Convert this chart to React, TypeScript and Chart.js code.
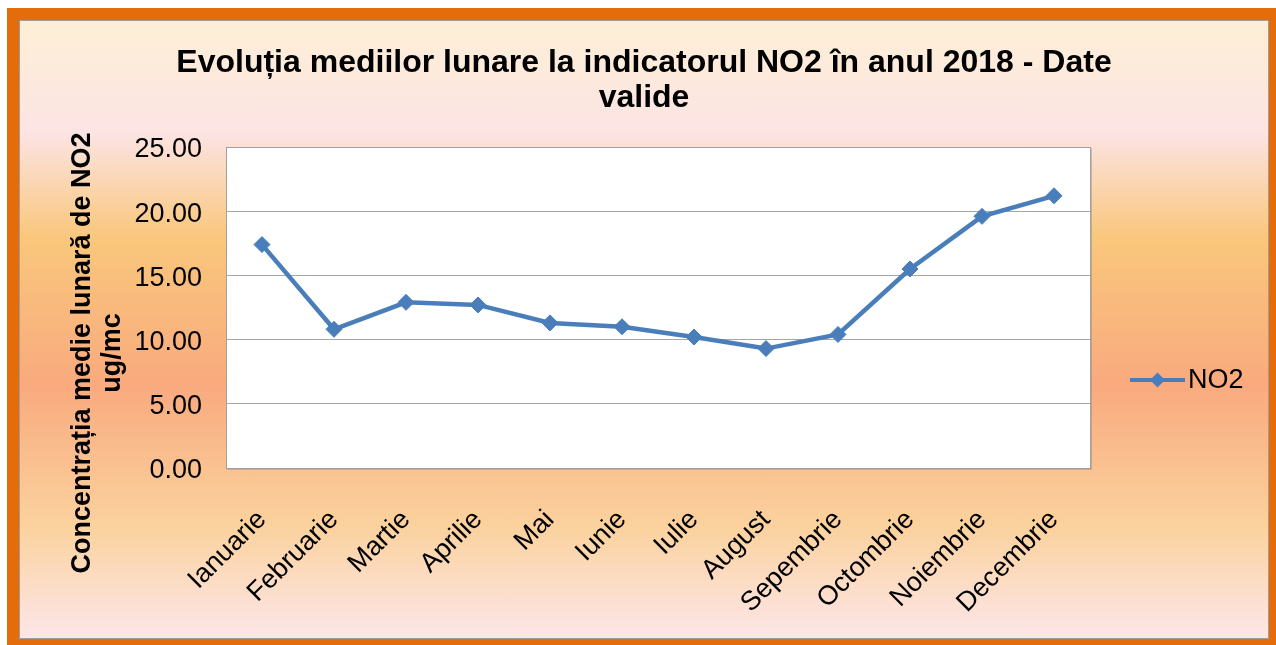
import React, { useEffect, useRef } from "react";
import { Chart, registerables } from "chart.js";

Chart.register(...registerables);

// ---- data ----
const months = [
  "Ianuarie", "Februarie", "Martie", "Aprilie", "Mai", "Iunie",
  "Iulie", "August", "Sepembrie", "Octombrie", "Noiembrie", "Decembrie",
];
const no2Values = [17.4, 10.8, 12.9, 12.7, 11.3, 11.0, 10.2, 9.3, 10.4, 15.5, 19.6, 21.2];
const seriesName = "NO2";
const titleLines = ["Evoluția mediilor lunare la indicatorul NO2 în anul 2018 - Date", "valide"];
const yTitleLines = ["Concentrația medie lunară de NO2", "ug/mc"];
const yMin = 0;
const yMax = 25;
const yStep = 5;

const FONT = "'Liberation Sans', Arial, Helvetica, sans-serif";
const LINE_COLOR = "#4a7ebb";

export default function App() {
  const canvasRef = useRef<HTMLCanvasElement | null>(null);

  useEffect(() => {
    const canvas = canvasRef.current;
    if (!canvas) return;

    const plotBg = {
      id: "plotBg",
      beforeDraw(chart: any) {
        const { ctx, chartArea: a } = chart;
        ctx.save();
        ctx.fillStyle = "#ffffff";
        ctx.fillRect(a.left, a.top, a.right - a.left, a.bottom - a.top);
        ctx.restore();
      },
      beforeDatasetsDraw(chart: any) {
        const { ctx, chartArea: a } = chart;
        const l = Math.round(a.left) + 0.5;
        const t = Math.round(a.top) + 0.5;
        const w = Math.round(a.right - a.left);
        const h = Math.round(a.bottom - a.top);
        ctx.save();
        // faint shadow on bottom/right edges
        ctx.strokeStyle = "rgba(120,120,120,0.35)";
        ctx.lineWidth = 1;
        ctx.beginPath();
        ctx.moveTo(l + 1, t + h + 1);
        ctx.lineTo(l + w + 1, t + h + 1);
        ctx.lineTo(l + w + 1, t + 1);
        ctx.stroke();
        ctx.strokeStyle = "#a0a0a0";
        ctx.strokeRect(l, t, w, h);
        ctx.restore();
      },
    };

    const sideText = {
      id: "sideText",
      afterDraw(chart: any) {
        const { ctx, chartArea: a } = chart;
        ctx.save();
        // y axis title
        ctx.fillStyle = "#000000";
        ctx.font = `bold 27px ${FONT}`;
        ctx.textAlign = "center";
        ctx.textBaseline = "alphabetic";
        const cy = 332;
        const baselines = [70, 100];
        yTitleLines.forEach((line, i) => {
          ctx.save();
          ctx.translate(baselines[i], cy);
          ctx.rotate(-Math.PI / 2);
          ctx.fillText(line, 0, 0);
          ctx.restore();
        });
        // legend
        const ds = chart.data.datasets[0];
        const ly = 359;
        const lx0 = a.right + 40;
        const lx1 = lx0 + 55;
        ctx.strokeStyle = ds.borderColor;
        ctx.lineWidth = 4;
        ctx.beginPath();
        ctx.moveTo(lx0, ly);
        ctx.lineTo(lx1, ly);
        ctx.stroke();
        const cx = (lx0 + lx1) / 2;
        const r = 7.5;
        ctx.fillStyle = ds.borderColor;
        ctx.beginPath();
        ctx.moveTo(cx, ly - r);
        ctx.lineTo(cx + r, ly);
        ctx.lineTo(cx, ly + r);
        ctx.lineTo(cx - r, ly);
        ctx.closePath();
        ctx.fill();
        ctx.fillStyle = "#000000";
        ctx.font = `27px ${FONT}`;
        ctx.textAlign = "left";
        ctx.textBaseline = "middle";
        ctx.fillText(ds.label, lx1 + 3, ly + 1);
        ctx.restore();
      },
    };

    const chart = new Chart(canvas, {
      type: "line",
      data: {
        labels: months,
        datasets: [
          {
            label: seriesName,
            data: no2Values,
            borderColor: LINE_COLOR,
            backgroundColor: LINE_COLOR,
            borderWidth: 4.5,
            tension: 0,
            pointStyle: "rectRot",
            pointRadius: 8,
            pointBorderWidth: 1,
            pointBackgroundColor: LINE_COLOR,
            pointBorderColor: LINE_COLOR,
            yAxisID: "y",
          },
        ],
      },
      options: {
        animation: false,
        responsive: false,
        maintainAspectRatio: false,
        devicePixelRatio: 1,
        layout: { padding: { left: 0, right: 0, top: 0, bottom: 0 } },
        plugins: {
          legend: { display: false },
          tooltip: { enabled: false },
          title: {
            display: true,
            text: titleLines,
            color: "#000000",
            font: { family: FONT, size: 32, weight: "bold", lineHeight: 35 / 32 },
            padding: { top: 25, bottom: 31 },
          },
        },
        scales: {
          x: {
            offset: true,
            grid: { display: false, drawTicks: false, offset: true },
            border: { display: false },
            ticks: {
              color: "#000000",
              font: { family: FONT, size: 27 },
              minRotation: 45,
              maxRotation: 45,
              autoSkip: false,
              padding: 36,
            },
            afterFit(scale: any) {
              scale.height = 170;
            },
          },
          y: {
            min: yMin,
            max: yMax,
            grid: { color: "#a6a6a6", lineWidth: 1, drawTicks: false },
            border: { display: false },
            ticks: {
              stepSize: yStep,
              color: "#000000",
              font: { family: FONT, size: 27 },
              padding: 24,
              labelOffset: 3,
              callback: (v: any) => Number(v).toFixed(2),
            },
            afterFit(scale: any) {
              scale.width = 206;
            },
          },
          legendSpace: {
            type: "linear",
            position: "right",
            display: true,
            grid: { display: false, drawTicks: false },
            border: { display: false },
            ticks: { display: false },
            afterFit(scale: any) {
              scale.width = 178;
            },
          },
        },
      },
      plugins: [plotBg, sideText],
    });

    return () => chart.destroy();
  }, []);

  return (
    <div style={{ position: "fixed", inset: 0, overflow: "hidden", background: "#ffffff" }}>
      <div
        style={{
          position: "absolute",
          left: 7,
          top: 8,
          width: 1274,
          height: 643,
          boxSizing: "border-box",
          border: "12px solid #e46c0a",
        }}
      >
        <div
          style={{
            width: "100%",
            height: "100%",
            boxSizing: "border-box",
            border: "1px solid #9c9c9c",
            background:
              "linear-gradient(to bottom, #fdefd6 0%, #fce4e4 18%, #f9c77c 35%, #f9aa7e 59%, #fbd29e 82%, #fde6ea 100%)",
          }}
        >
          <canvas ref={canvasRef} width={1248} height={617} style={{ display: "block", width: 1248, height: 617 }} />
        </div>
      </div>
    </div>
  );
}
